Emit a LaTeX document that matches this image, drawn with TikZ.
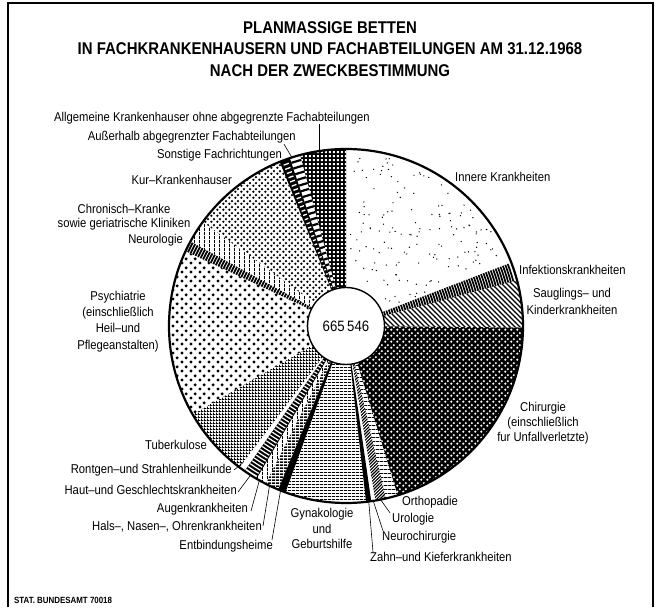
\documentclass[tikz,border=0pt]{standalone}
\usepackage{fontspec}
\setmainfont{Liberation Sans}[FakeStretch=0.88]
\usetikzlibrary{patterns}

\pgfdeclarepatternformonly{psydots}{\pgfqpoint{0pt}{0pt}}{\pgfqpoint{9pt}{9pt}}{\pgfqpoint{9pt}{9pt}}{%
  \pgfpathcircle{\pgfqpoint{2.25pt}{2.25pt}}{1.85pt}%
  \pgfpathcircle{\pgfqpoint{6.75pt}{6.75pt}}{1.85pt}%
  \pgfusepath{fill}}
\pgfdeclarepatternformonly{kurdots}{\pgfqpoint{0pt}{0pt}}{\pgfqpoint{6pt}{6pt}}{\pgfqpoint{6pt}{6pt}}{%
  \pgfpathcircle{\pgfqpoint{1.5pt}{1.5pt}}{1.45pt}%
  \pgfpathcircle{\pgfqpoint{4.5pt}{4.5pt}}{1.45pt}%
  \pgfusepath{fill}}
\pgfdeclarepatternformonly{chirdots}{\pgfqpoint{0pt}{0pt}}{\pgfqpoint{6pt}{6pt}}{\pgfqpoint{6pt}{6pt}}{%
  \pgfpathcircle{\pgfqpoint{1.5pt}{1.5pt}}{1.4pt}%
  \pgfpathcircle{\pgfqpoint{4.5pt}{4.5pt}}{1.4pt}%
  \pgfusepath{fill}}
\pgfdeclarepatternformonly{allgsq}{\pgfqpoint{0pt}{0pt}}{\pgfqpoint{3.8pt}{3.8pt}}{\pgfqpoint{3.8pt}{3.8pt}}{%
  \pgfpathrectangle{\pgfqpoint{0.9pt}{0.9pt}}{\pgfqpoint{2pt}{2pt}}%
  \pgfusepath{fill}}
\pgfdeclarepatternformonly{tbcgrid}{\pgfqpoint{0pt}{0pt}}{\pgfqpoint{3pt}{3pt}}{\pgfqpoint{3pt}{3pt}}{%
  \pgfpathrectangle{\pgfqpoint{0pt}{0pt}}{\pgfqpoint{3pt}{1.1pt}}%
  \pgfpathrectangle{\pgfqpoint{0pt}{1.1pt}}{\pgfqpoint{1.1pt}{1.9pt}}%
  \pgfusepath{fill}}
\pgfdeclarepatternformonly{gynlines}{\pgfqpoint{0pt}{0pt}}{\pgfqpoint{4pt}{3.4pt}}{\pgfqpoint{4pt}{3.4pt}}{%
  \pgfpathrectangle{\pgfqpoint{0pt}{0pt}}{\pgfqpoint{4pt}{1.1pt}}%
  \pgfusepath{fill}}
\pgfdeclarepatternformonly{orthlines}{\pgfqpoint{0pt}{0pt}}{\pgfqpoint{4pt}{4.2pt}}{\pgfqpoint{4pt}{4.2pt}}{%
  \pgfpathrectangle{\pgfqpoint{0pt}{0pt}}{\pgfqpoint{4pt}{0.9pt}}%
  \pgfusepath{fill}}
\pgfdeclarepatternformonly{hdark}{\pgfqpoint{0pt}{0pt}}{\pgfqpoint{4pt}{3pt}}{\pgfqpoint{4pt}{3pt}}{%
  \pgfpathrectangle{\pgfqpoint{0pt}{0pt}}{\pgfqpoint{4pt}{2pt}}%
  \pgfusepath{fill}}
\pgfdeclarepatternformonly{vsparse}{\pgfqpoint{0pt}{0pt}}{\pgfqpoint{4.5pt}{4pt}}{\pgfqpoint{4.5pt}{4pt}}{%
  \pgfpathrectangle{\pgfqpoint{0pt}{0pt}}{\pgfqpoint{1pt}{4pt}}%
  \pgfusepath{fill}}
\pgfdeclarepatternformonly{nwfive}{\pgfqpoint{-1pt}{-1pt}}{\pgfqpoint{6pt}{6pt}}{\pgfqpoint{5pt}{5pt}}{%
  \pgfsetlinewidth{1.2pt}%
  \pgfpathmoveto{\pgfqpoint{-0.1pt}{5.1pt}}%
  \pgfpathlineto{\pgfqpoint{5.1pt}{-0.1pt}}%
  \pgfusepath{stroke}}
\pgfdeclarepatternformonly{nethree}{\pgfqpoint{-1pt}{-1pt}}{\pgfqpoint{4.2pt}{4.2pt}}{\pgfqpoint{3.2pt}{3.2pt}}{%
  \pgfsetlinewidth{1.1pt}%
  \pgfpathmoveto{\pgfqpoint{-0.1pt}{-0.1pt}}%
  \pgfpathlineto{\pgfqpoint{3.3pt}{3.3pt}}%
  \pgfusepath{stroke}}

\newcommand\pieslice[3]{\fill[#3] (0,0) -- (#1:177pt) arc[start angle=#1,end angle=#2,radius=177pt] -- cycle;}
\newcommand\rungs[6]{\foreach \rr in {#3,#4,...,175}{\draw[line width=#5,#6] (#1:\rr pt) arc[start angle=#1,end angle=#2,radius=\rr pt];}}

\begin{document}
\begin{tikzpicture}[x=1pt,y=1pt,
  lab/.style={inner sep=0pt, font=\fontsize{12.8}{15}\selectfont},
  leader/.style={line width=0.6pt},
  ttl/.style={inner sep=0pt, font=\bfseries\fontsize{17}{20}\selectfont}]
\useasboundingbox (0,0) rectangle (660,607);
\fill[white] (0,0) rectangle (660,607);
% frame
\draw[line width=1.6pt] (8,0) -- (8,604) -- (653,604) -- (653,0);

% title
\node[ttl] (t1) at (330,579) {PLANMASSIGE BETTEN};
\node[ttl] (t2) at (330,558) {IN FACHKRANKENHAUSERN UND FACHABTEILUNGEN AM 31.12.1968};
\node[ttl] (t3) at (330,536) {NACH DER ZWECKBESTIMMUNG};

% pie
\begin{scope}[shift={(346,281)}]
  \pieslice{90}{21}{white}
  \pgfmathsetseed{7}
  \foreach \k in {1,...,150}{
    \pgfmathsetmacro{\dA}{23+65*rnd}
    \pgfmathsetmacro{\dR}{10*sqrt(20.25+279*rnd)}
    \fill (\dA:\dR pt) circle[radius=0.7pt];
  }
  \pieslice{21}{15}{white}
  \rungs{21}{15}{38}{40.6}{1.7pt}{black}
  \pieslice{15}{-0.5}{pattern=nwfive}
  \pieslice{-0.5}{-73}{black}
  \pieslice{-0.5}{-73}{pattern=chirdots,pattern color=white}
  \pieslice{-73}{-77}{pattern=orthlines}
  \pieslice{-77}{-80.5}{pattern=nethree}
  \pieslice{-80.5}{-81.8}{white}
  \pieslice{-81.8}{-83.5}{black}
  \pieslice{-83.5}{-110}{pattern=gynlines}
  \pieslice{-110}{-112.5}{black}
  \pieslice{-112.5}{-117}{pattern=hdark}
  \pieslice{-117}{-120.5}{pattern=vsparse}
  \rungs{-120.5}{-125}{40}{43.5}{2pt}{black}
  \draw[line width=0.7pt] (0,0) -- (-120.5:177pt) (0,0) -- (-125:177pt);
  \pieslice{-125}{-127}{white}
  \pieslice{-127}{-150}{pattern=tbcgrid}
  \pieslice{-150}{-205}{pattern=psydots}
  \rungs{-205}{-208.5}{40}{42.8}{1.8pt}{black}
  \pieslice{-208.5}{-216}{pattern=vsparse}
  \pieslice{-216}{-248}{pattern=kurdots}
  \pieslice{-248}{-251.5}{black}
  \rungs{-248.8}{-250.7}{42}{46.5}{1.3pt}{white}
  \rungs{-251.5}{-255}{40}{46}{2.2pt}{black}
  \pieslice{-255}{-270}{black}
  \pieslice{-255}{-270}{pattern=allgsq,pattern color=white}
  \draw[line width=2.2pt] (0,0) circle[radius=177pt];
  \node[circle,draw,fill=white,line width=1.4pt,minimum size=77pt,inner sep=0pt,
        font=\fontsize{15}{17}\selectfont] (ctr) at (0,0) {665\,546};
  % leader targets
  \coordinate (pAllg) at (98.8:177pt);
  \coordinate (pAuss) at (107.8:177pt);
  \coordinate (pRoe) at (-127:171pt);
  \coordinate (pHaut) at (-122.6:177pt);
  \coordinate (pAug) at (-119.3:177pt);
  \coordinate (pHno) at (-115.6:177pt);
  \coordinate (pEnt) at (-111.7:177pt);
  \coordinate (pUro) at (-78.9:176pt);
  \coordinate (pNeu) at (-81.2:176pt);
  \coordinate (pZahn) at (-82.6:176pt);
\end{scope}

% labels left/top
\node[lab] (nAllg) at (212,489) {Allgemeine Krankenhauser ohne abgegrenzte Fachabteilungen};
\node[lab,anchor=east] (nAuss) at (296,470) {Außerhalb abgegrenzter Fachabteilungen};
\node[lab,anchor=east] (nSon) at (282,452) {Sonstige Fachrichtungen};
\node[lab,anchor=east] (nKur) at (232,427) {Kur--Krankenhauser};
\node[lab,align=center,font=\fontsize{12.8}{14}\selectfont] (nChr) at (124,390) {Chronisch--Kranke\\sowie geriatrische Kliniken};
\node[lab,anchor=east] (nNeur) at (183,367) {Neurologie};
\node[lab,align=center,font=\fontsize{12.8}{16.3}\selectfont] (nPsy) at (118,285.5) {Psychiatrie\\(einschließlich\\Heil--und\\Pflegeanstalten)};
\node[lab,anchor=east] (nTbc) at (207,162) {Tuberkulose};
\node[lab,anchor=east] (nRoe) at (232,137) {Rontgen--und Strahlenheilkunde};
\node[lab,anchor=east] (nHaut) at (237,117) {Haut--und Geschlechtskrankheiten};
\node[lab,anchor=east] (nAug) at (248,98) {Augenkrankheiten};
\node[lab,anchor=east] (nHno) at (262,80) {Hals--, Nasen--, Ohrenkrankheiten};
\node[lab,anchor=east] (nEnt) at (273,61) {Entbindungsheime};
\node[lab,align=center,font=\fontsize{12.8}{15.5}\selectfont] (nGyn) at (322,78.5) {Gynakologie\\und\\Geburtshilfe};
% labels right
\node[lab,anchor=west] (nOrth) at (402,105) {Orthopadie};
\node[lab,anchor=west] (nUro) at (392,88) {Urologie};
\node[lab,anchor=west] (nNeu) at (382,70) {Neurochirurgie};
\node[lab,anchor=west] (nZahn) at (370,50) {Zahn--und Kieferkrankheiten};
\node[lab,align=center,font=\fontsize{12.8}{15}\selectfont] (nChi) at (543,184) {Chirurgie\\(einschließlich\\fur Unfallverletzte)};
\node[lab,align=center,font=\fontsize{12.8}{17}\selectfont] (nSae) at (572,305.5) {Sauglings-- und\\Kinderkrankheiten};
\node[lab,anchor=west] (nInf) at (519,337) {Infektionskrankheiten};
\node[lab,anchor=west] (nInn) at (455,430) {Innere Krankheiten};
\node[inner sep=0pt,anchor=west,font=\bfseries\fontsize{9}{10}\selectfont] (nStat) at (14,7) {STAT. BUNDESAMT 70018};

% leaders
\draw[leader] (nAllg.south -| pAllg) -- (pAllg);
\draw[leader] ([xshift=-12pt,yshift=-1pt]nAuss.south east) -- (pAuss);
\draw[leader] ([xshift=2pt]nRoe.east) -- (pRoe);
\draw[leader] ([xshift=1pt,yshift=-2pt]nHaut.east) -- (pHaut);
\draw[leader] ([xshift=3pt,yshift=-2pt]nAug.east) -- (pAug);
\draw[leader] ([xshift=1pt,yshift=1pt]nHno.east) -- (pHno);
\draw[leader] ([xshift=-1pt]nEnt.north east) -- (pEnt);
\draw[leader] ([xshift=-2pt]nUro.north west) -- (pUro);
\draw[leader] ([xshift=1pt]nNeu.north west) -- (pNeu);
\draw[leader] ([xshift=3pt]nZahn.north west) -- (pZahn);
\end{tikzpicture}
\end{document}
